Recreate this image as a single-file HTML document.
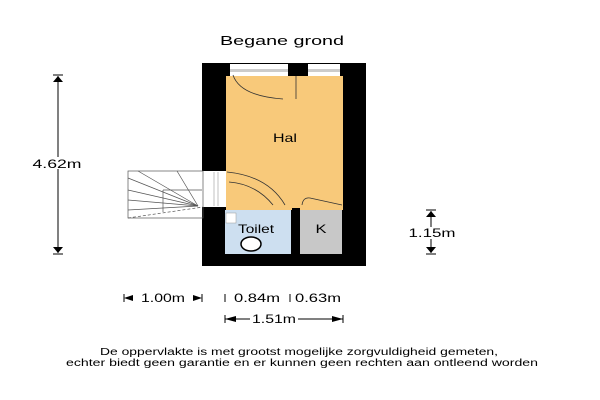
<!DOCTYPE html>
<html><head><meta charset="utf-8"><style>
html,body{margin:0;padding:0;background:#fff;width:600px;height:400px;overflow:hidden}
svg{display:block}
text{font-family:"Liberation Sans",sans-serif;fill:#000}
</style></head><body>
<svg width="600" height="400" viewBox="0 0 600 400">
<text x="282" y="45" font-size="13" text-anchor="middle" textLength="124" lengthAdjust="spacingAndGlyphs">Begane grond</text>
<rect x="202" y="63" width="164" height="203" fill="#000"/>
<rect x="226" y="76" width="117" height="132" fill="#f8c97a"/>
<rect x="230" y="64" width="58" height="12" fill="#fff"/>
<rect x="230" y="69" width="58" height="3" fill="#ccc"/>
<rect x="308" y="64" width="32" height="12" fill="#fff"/>
<rect x="308" y="69" width="32" height="3" fill="#ccc"/>
<path d="M233 75 Q240 96 283 99" stroke="#333" fill="none" stroke-width="0.8"/>
<line x1="296" y1="76" x2="296" y2="99" stroke="#333" stroke-width="0.8"/>
<rect x="225" y="210" width="66" height="44" fill="#cddff0"/>
<rect x="300" y="210" width="42" height="44" fill="#c8c8c8"/>
<rect x="226" y="206" width="66" height="4" fill="#f8c97a"/>
<rect x="300" y="206" width="43" height="4" fill="#f8c97a"/>
<text x="256" y="233" font-size="12" text-anchor="middle" textLength="36" lengthAdjust="spacingAndGlyphs">Toilet</text>
<text x="321" y="233" font-size="12" text-anchor="middle" textLength="11" lengthAdjust="spacingAndGlyphs">K</text>
<ellipse cx="251" cy="244" rx="10" ry="7" fill="#fff" stroke="#000" stroke-width="1.5"/>
<rect x="226" y="213" width="10" height="10" fill="#fff" stroke="#999" stroke-width="0.5"/>
<text x="285" y="142" font-size="12" text-anchor="middle" textLength="24" lengthAdjust="spacingAndGlyphs">Hal</text>
<path d="M227 172 Q268 176 285 205" stroke="#333" fill="none" stroke-width="0.8"/>
<path d="M229 182 Q256 184 273 205" stroke="#333" fill="none" stroke-width="0.8"/>
<path d="M302 205 Q303 197 310 198 L342 205" stroke="#333" fill="none" stroke-width="0.8"/>
<rect x="202" y="171" width="24" height="36" fill="#fff"/>
<line x1="214" y1="172" x2="214" y2="206" stroke="#999" stroke-width="0.6"/>
<line x1="218" y1="172" x2="218" y2="206" stroke="#999" stroke-width="0.6"/>
<g stroke="#555" stroke-width="0.7" fill="none">
<rect x="128" y="171" width="75" height="47"/>
<line x1="128" y1="178" x2="198" y2="206"/>
<line x1="138" y1="171" x2="198" y2="206"/>
<line x1="177" y1="171" x2="198" y2="206"/>
<line x1="128" y1="190" x2="198" y2="206"/>
<line x1="128" y1="200" x2="198" y2="206"/>
<line x1="128" y1="210" x2="198" y2="206"/>
<line x1="163" y1="190" x2="163" y2="212"/>
<line x1="163" y1="190" x2="202" y2="190"/>
<line x1="128" y1="218" x2="203" y2="207" stroke-dasharray="3,2"/>
</g>
<line x1="58" y1="76" x2="58" y2="253" stroke="#000" stroke-width="1"/>
<polygon points="53,82 63,82 58,76" fill="#000"/><line x1="53" y1="75" x2="63" y2="75" stroke="#000"/>
<polygon points="53,247 63,247 58,253" fill="#000"/><line x1="53" y1="254" x2="63" y2="254" stroke="#000"/>
<rect x="33" y="157" width="50" height="12" fill="#fff"/>
<text x="57" y="168" font-size="12" text-anchor="middle" textLength="49" lengthAdjust="spacingAndGlyphs">4.62m</text>
<line x1="431" y1="211" x2="431" y2="253" stroke="#000"/>
<polygon points="426,217 436,217 431,211" fill="#000"/><line x1="426" y1="210" x2="436" y2="210" stroke="#000"/>
<polygon points="426,247 436,247 431,253" fill="#000"/><line x1="426" y1="254" x2="436" y2="254" stroke="#000"/>
<rect x="408" y="227" width="48" height="12" fill="#fff"/>
<text x="432" y="237" font-size="12" text-anchor="middle" textLength="47" lengthAdjust="spacingAndGlyphs">1.15m</text>
<g stroke="#000">
<line x1="124" y1="294" x2="124" y2="302"/><line x1="202" y1="294" x2="202" y2="302"/>
<line x1="225" y1="294" x2="225" y2="302"/><line x1="290" y1="294" x2="290" y2="302"/>
<line x1="225" y1="315" x2="225" y2="323"/><line x1="343" y1="315" x2="343" y2="323"/>
<line x1="225" y1="319" x2="343" y2="319"/>
</g>
<polygon points="124,298 133,295 133,301" fill="#000"/>
<polygon points="202,298 193,295 193,301" fill="#000"/>
<polygon points="225,319 236,316 236,322" fill="#000"/>
<polygon points="343,319 332,316 332,322" fill="#000"/>
<rect x="250" y="313" width="48" height="12" fill="#fff"/>
<text x="163" y="302" font-size="12" text-anchor="middle" textLength="44" lengthAdjust="spacingAndGlyphs">1.00m</text>
<text x="257" y="302" font-size="12" text-anchor="middle" textLength="46" lengthAdjust="spacingAndGlyphs">0.84m</text>
<text x="318" y="302" font-size="12" text-anchor="middle" textLength="46" lengthAdjust="spacingAndGlyphs">0.63m</text>
<text x="274" y="323" font-size="12" text-anchor="middle" textLength="44" lengthAdjust="spacingAndGlyphs">1.51m</text>
<text x="299" y="355" font-size="10" text-anchor="middle" textLength="398" lengthAdjust="spacingAndGlyphs">De oppervlakte is met grootst mogelijke zorgvuldigheid gemeten,</text>
<text x="302" y="366" font-size="10" text-anchor="middle" textLength="472" lengthAdjust="spacingAndGlyphs">echter biedt geen garantie en er kunnen geen rechten aan ontleend worden</text>
</svg>
</body></html>
